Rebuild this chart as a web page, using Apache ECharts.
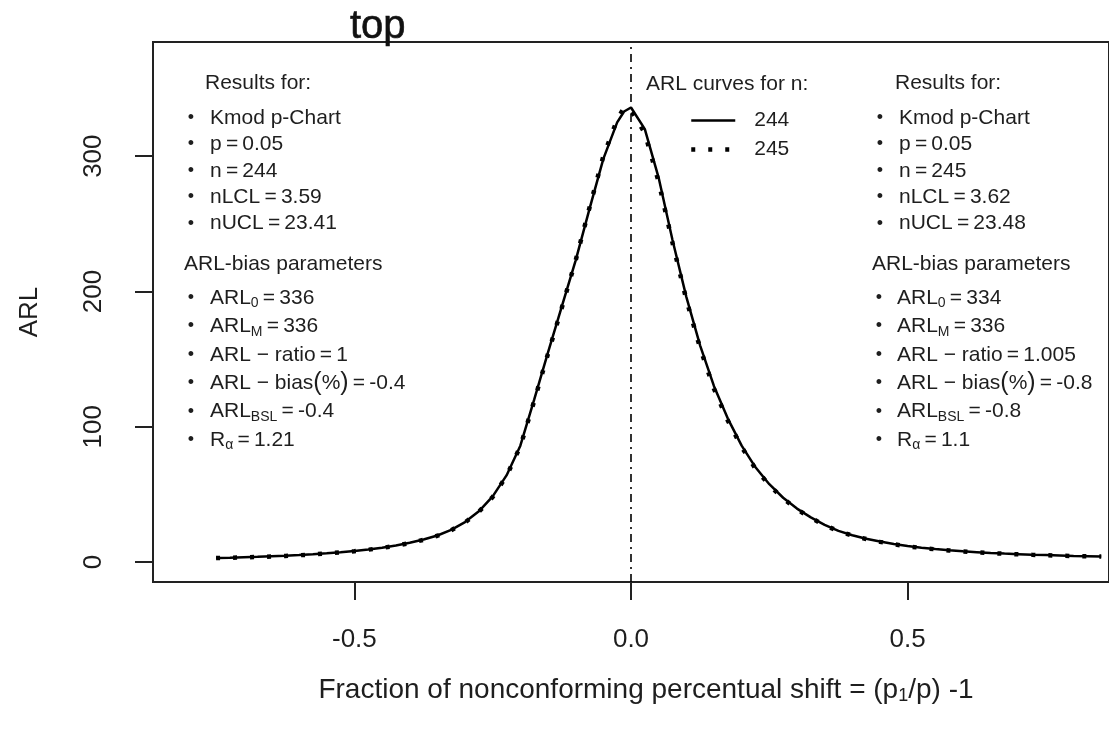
<!DOCTYPE html>
<html>
<head>
<meta charset="utf-8">
<script src="https://cdn.jsdelivr.net/npm/echarts@6/dist/echarts.min.js"></script>
<style>
  html, body { margin: 0; padding: 0; background: #fff; }
  #chart { width: 1109px; height: 731px; }
</style>
</head>
<body>
<div id="chart"></div>
<script>
// Fraction of nonconforming shift (p1/p - 1)
const shift = [
  -0.750, -0.725, -0.700, -0.675, -0.650, -0.625, -0.600, -0.575, -0.550, -0.525,
  -0.500, -0.475, -0.450, -0.425, -0.400, -0.375, -0.350, -0.325, -0.300, -0.275,
  -0.250, -0.225, -0.200, -0.175, -0.150, -0.125, -0.100, -0.075, -0.050, -0.025,
  -0.0125, 0.000,
  0.025, 0.050, 0.075, 0.100, 0.125, 0.150, 0.175, 0.200, 0.225, 0.250,
  0.275, 0.300, 0.325, 0.350, 0.375, 0.400, 0.425, 0.450, 0.475, 0.500,
  0.525, 0.550, 0.575, 0.600, 0.625, 0.650, 0.675, 0.700, 0.725, 0.750,
  0.775, 0.800, 0.825, 0.850
];

// ARL curve, n = 244
const arl244 = [
  3.0, 3.2, 3.5, 3.8, 4.2, 4.6, 5.1, 5.7, 6.4, 7.2,
  8.2, 9.3, 10.6, 12.2, 14.2, 16.6, 19.6, 23.8, 29.5, 37.5,
  48.5, 64, 86, 120, 155, 189, 223, 261, 298, 325,
  333, 336,
  320, 284, 238, 196, 160, 130, 106, 86, 70, 57.5,
  47.5, 39.5, 33, 27.5, 23, 19.8, 17.2, 15.1, 13.3, 11.8,
  10.6, 9.6, 8.7, 7.9, 7.3, 6.7, 6.2, 5.8, 5.4, 5.1,
  4.8, 4.5, 4.3, 4.1
];

// ARL curve, n = 245
const arl245 = [
  2.9, 3.1, 3.4, 3.7, 4.1, 4.5, 5.0, 5.6, 6.3, 7.1,
  8.0, 9.1, 10.4, 12.0, 14.0, 16.4, 19.4, 23.5, 29.2, 37.1,
  48.1, 63.5, 85.5, 119, 154, 188, 223, 262, 300, 327,
  336, 334,
  317, 281, 236, 194, 158, 128, 104.5, 85, 69, 56.8,
  47, 39, 32.6, 27.2, 22.8, 19.6, 17.0, 14.9, 13.1, 11.6,
  10.4, 9.4, 8.5, 7.8, 7.2, 6.6, 6.1, 5.7, 5.3, 5.0,
  4.7, 4.4, 4.2, 4.0
];

const seriesNames = ['244', '245'];
const centerShift = 0;

const xTicks = [-0.5, 0, 0.5];
const xTickLabels = ['-0.5', '0.0', '0.5'];
const yTicks = [0, 100, 200, 300];
const yTickLabels = ['0', '100', '200', '300'];

const chartTitle = 'top';
const xTitle = 'Fraction of nonconforming percentual shift = (p{s|1}/p) -1';
const yTitle = 'ARL';
const legendTitle = 'ARL curves for n:';

// Annotation blocks ({s|...} marks a subscript, {b|...} a large bracket)
const resultsHeader = 'Results for:';
const biasHeader = 'ARL-bias parameters';
const resultsLeft = ['Kmod p-Chart', 'p\u2009=\u20090.05', 'n\u2009=\u2009244', 'nLCL\u2009=\u20093.59', 'nUCL\u2009=\u200923.41'];
const biasLeft = [
  'ARL{s|0}\u2009=\u2009336',
  'ARL{s|M}\u2009=\u2009336',
  'ARL \u2212 ratio\u2009=\u20091',
  'ARL \u2212 bias{b|(}%{b|)}\u2009=\u2009-0.4',
  'ARL{s|BSL}\u2009=\u2009-0.4',
  'R{s|\u03b1}\u2009=\u20091.21'
];
const resultsRight = ['Kmod p-Chart', 'p\u2009=\u20090.05', 'n\u2009=\u2009245', 'nLCL\u2009=\u20093.62', 'nUCL\u2009=\u200923.48'];
const biasRight = [
  'ARL{s|0}\u2009=\u2009334',
  'ARL{s|M}\u2009=\u2009336',
  'ARL \u2212 ratio\u2009=\u20091.005',
  'ARL \u2212 bias{b|(}%{b|)}\u2009=\u2009-0.8',
  'ARL{s|BSL}\u2009=\u2009-0.8',
  'R{s|\u03b1}\u2009=\u20091.1'
];

// ---- styling / layout ----
const FONT = '"Liberation Sans", Arial, sans-serif';
const INK = '#1e1e1e';
const NOTE_SIZE = 21;
const SOLID = { color: '#000', width: 2.5, type: 'solid' };
const DOTTED = { color: '#000', width: 4.5, type: [4, 13] };
const richNote = {
  s: { fontSize: 14, fontFamily: FONT, fill: INK, color: INK, lineHeight: 24, padding: [11, 0, 0, 0] },
  b: { fontSize: 25, fontFamily: FONT, fill: INK, color: INK, lineHeight: 24 }
};

function note(x, y, text, size) {
  return {
    type: 'text', x: x, y: y, silent: true, z: 10,
    style: {
      text: text, fill: INK, fontSize: size || NOTE_SIZE, fontFamily: FONT,
      lineHeight: 24, rich: richNote,
      align: 'left', verticalAlign: 'middle', textAlign: 'left', textVerticalAlign: 'middle'
    }
  };
}
function bullet(x, y) {
  return {
    type: 'text', x: x, y: y, silent: true, z: 10,
    style: { text: '\u2022', fill: INK, fontSize: 18, fontFamily: FONT,
      align: 'center', verticalAlign: 'middle', textAlign: 'center', textVerticalAlign: 'middle' }
  };
}
function block(xHead, xBullet, xText, yHead, yFirst, step, headText, lines) {
  const out = [note(xHead, yHead, headText)];
  lines.forEach(function (t, i) {
    const y = yFirst + step * i;
    out.push(bullet(xBullet, y));
    out.push(note(xText, y, t));
  });
  return out;
}

const graphics = []
  .concat(block(205, 191, 210, 83, 118, 26.4, resultsHeader, resultsLeft))
  .concat(block(184, 191, 210, 264, 298, 28.4, biasHeader, biasLeft))
  .concat(block(895, 880, 899, 83, 118, 26.4, resultsHeader, resultsRight))
  .concat(block(872, 879, 897, 264, 298, 28.4, biasHeader, biasRight))
  .concat([
    note(646, 84, legendTitle),
    {
      type: 'text', x: 350, y: 27, silent: true,
      style: { text: chartTitle, fill: '#111', fontSize: 40, fontFamily: FONT,
        stroke: '#111', lineWidth: 0.6,
        align: 'left', verticalAlign: 'middle', textAlign: 'left', textVerticalAlign: 'middle' }
    },
    {
      type: 'text', x: 646, y: 690, silent: true,
      style: { text: xTitle, fill: INK, fontSize: 28, fontFamily: FONT, lineHeight: 30,
        rich: { s: { fontSize: 18, fontFamily: FONT, fill: INK, color: INK, lineHeight: 30, padding: [12, 0, 0, 0] } },
        align: 'center', verticalAlign: 'middle', textAlign: 'center', textVerticalAlign: 'middle' }
    },
    {
      type: 'text', x: 30, y: 312, rotation: Math.PI / 2, silent: true,
      style: { text: yTitle, fill: INK, fontSize: 26, fontFamily: FONT,
        align: 'center', verticalAlign: 'middle', textAlign: 'center', textVerticalAlign: 'middle' }
    }
  ]);

function labelFor(ticks, labels) {
  return function (v) {
    let best = 0;
    ticks.forEach(function (t, i) { if (Math.abs(t - v) < Math.abs(ticks[best] - v)) best = i; });
    return labels[best];
  };
}

const chart = echarts.init(document.getElementById('chart'), null, { renderer: 'canvas' });

chart.setOption({
  backgroundColor: '#ffffff',
  animation: false,
  color: ['#000000', '#000000'],
  grid: {
    left: 153, top: 42, right: -9, bottom: 149,
    show: true, borderColor: '#222', borderWidth: 2, backgroundColor: 'transparent'
  },
  xAxis: {
    type: 'value', min: -0.864, max: 0.864,
    axisLine: { show: false, onZero: false },
    splitLine: { show: false },
    axisTick: { show: true, customValues: xTicks, length: 18, inside: false, lineStyle: { color: '#222', width: 2 } },
    axisLabel: { show: true, customValues: xTicks, formatter: labelFor(xTicks, xTickLabels),
      margin: 45, fontSize: 26, fontFamily: FONT, color: INK }
  },
  yAxis: {
    type: 'value', min: -14.78, max: 384.4,
    axisLine: { show: false, onZero: false },
    splitLine: { show: false },
    axisTick: { show: true, customValues: yTicks, length: 18, inside: false, lineStyle: { color: '#222', width: 2 } },
    axisLabel: { show: true, customValues: yTicks, formatter: labelFor(yTicks, yTickLabels),
      rotate: 90, margin: 46, fontSize: 26, fontFamily: FONT, color: INK }
  },
  legend: {
    data: [
      { name: seriesNames[0], lineStyle: SOLID },
      { name: seriesNames[1], lineStyle: DOTTED }
    ],
    orient: 'vertical', left: 689, top: 110, padding: 0,
    itemWidth: 44, itemHeight: 10, itemGap: 8,
    selectedMode: false,
    itemStyle: { color: 'rgba(0,0,0,0)', borderWidth: 0, opacity: 0 },
    textStyle: { fontSize: NOTE_SIZE, fontFamily: FONT, color: INK, lineHeight: 18, padding: [0, 0, 0, 14] }
  },
  series: [
    {
      name: seriesNames[0], type: 'line',
      data: shift.map(function (x, i) { return [x, arl244[i]]; }),
      symbol: 'none', showSymbol: false, smooth: false, z: 3,
      itemStyle: { color: '#000' },
      lineStyle: SOLID,
      markLine: {
        silent: true, symbol: ['none', 'none'],
        label: { show: false },
        lineStyle: { color: '#000', width: 1.6, type: [8, 5, 2, 5] },
        data: [{ xAxis: centerShift }]
      }
    },
    {
      name: seriesNames[1], type: 'line',
      data: shift.map(function (x, i) { return [x, arl245[i]]; }),
      symbol: 'none', showSymbol: false, smooth: false, z: 4,
      itemStyle: { color: '#000' },
      lineStyle: DOTTED
    }
  ],
  graphic: graphics
});
</script>
</body>
</html>
